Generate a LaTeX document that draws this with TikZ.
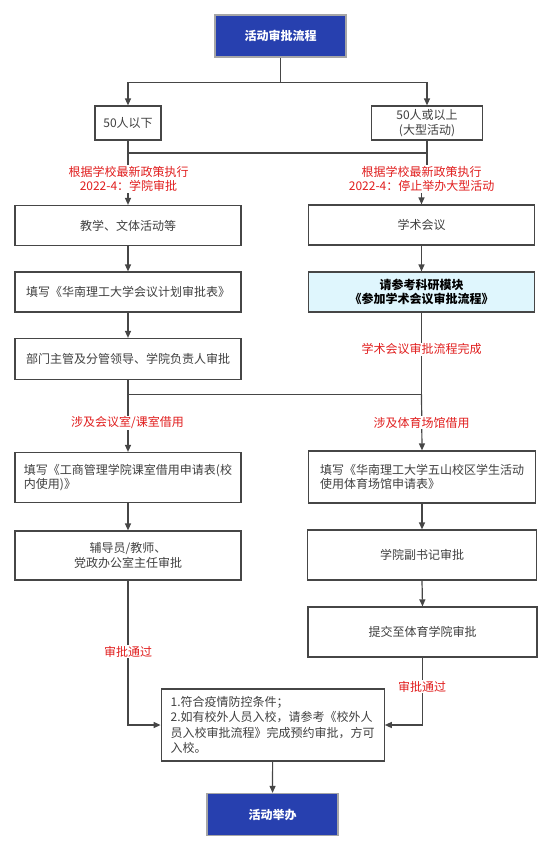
\documentclass[tikz,border=0pt]{standalone}
\usepackage{fontspec}
\setmainfont{Noto Sans CJK SC}[AutoFakeSlant=0.2]
\usetikzlibrary{arrows.meta}
\definecolor{titleblue}{RGB}{39,64,175}
\definecolor{noteblue}{RGB}{223,246,253}
\definecolor{linegray}{RGB}{70,70,70}
\definecolor{textgray}{RGB}{64,64,64}
\definecolor{notered}{RGB}{225,30,30}
\tikzset {>={Triangle[length=7pt,width=6pt]}}
\tikzset {
  stepbox/.style={draw=linegray,line width=1.2pt,fill=white,text=textgray,
    font=\fontsize{12}{14.5}\selectfont,inner sep=3pt,align=center},
  endbox/.style={draw=gray!70,line width=1.2pt,fill=titleblue,text=white,
    font=\fontsize{12}{14.5}\selectfont\bfseries,minimum width=131pt,minimum height=42pt},
  redlabel/.style={fill=white,text=notered,font=\fontsize{12}{14.5}\selectfont,
    inner sep=1pt,align=center}
}

\begin{document}
\begin{tikzpicture}[x=1pt,y=-1pt,line width=1.2pt,color=linegray]
\useasboundingbox (0,0) rectangle (554,851);

\node[endbox] (title) at (280.5,36) {活动审批流程};
\node[stepbox,minimum width=66pt,minimum height=34pt] (lt50) at (128,123) {50人以下};
\node[stepbox,minimum width=111pt,minimum height=34pt] (ge50) at (427,123) {50人或以上\\(大型活动)};

\node[stepbox,minimum width=226pt,minimum height=40pt] (jiaoxue) at (128,225.5) {教学、文体活动等};
\node[stepbox,minimum width=226pt,minimum height=40pt] (plan) at (128,292) {填写《华南理工大学会议计划审批表》};
\node[stepbox,minimum width=226pt,minimum height=41pt] (leader) at (128,359) {部门主管及分管领导、学院负责人审批};
\node[stepbox,minimum width=226pt,minimum height=40pt] (xueshu) at (421.5,225) {学术会议};
\node[stepbox,minimum width=226pt,minimum height=40pt,fill=noteblue,text=black,
  font=\fontsize{12}{14.5}\selectfont\bfseries\itshape] (keyan) at (421.5,292)
  {请参考科研模块\\《参加学术会议审批流程》};

\node[stepbox,minimum width=226pt,minimum height=50pt,align=left] (room) at (128,477.5)
  {填写《工商管理学院课室借用申请表(校\\内使用)》};
\node[stepbox,minimum width=226pt,minimum height=49pt] (tutor) at (128,555.5)
  {辅导员/教师、\\党政办公室主任审批};
\node[stepbox,minimum width=227pt,minimum height=52pt,align=left] (gym) at (422,477)
  {填写《华南理工大学五山校区学生活动\\使用体育场馆申请表》};
\node[stepbox,minimum width=229pt,minimum height=50pt] (deputy) at (422,555) {学院副书记审批};
\node[stepbox,minimum width=229pt,minimum height=50pt] (sport) at (422.5,632) {提交至体育学院审批};

\node[stepbox,minimum width=223pt,minimum height=72pt,align=left,
  font=\fontsize{12}{15.5}\selectfont] (cond) at (272.7,725)
  {1.符合疫情防控条件；\\2.如有校外人员入校，请参考《校外人\\员入校审批流程》完成预约审批，方可\\入校。};
\node[endbox] (hold) at (272.5,814.5) {活动举办};

\draw (title.south) -- ++(0,25) coordinate (fork);
\draw[->] (fork) -| (lt50.north);
\draw[->] (fork) -| (ge50.north);
\coordinate (joinl) at (128,153);
\coordinate (joinr) at (427,153);
\draw (lt50.south) -- (joinl) -- (joinr) -- (ge50.south);
\draw[->] (joinl) -- (jiaoxue.north);
\draw[->] (joinr) -- ++(0,26) -| (xueshu.north);
\draw[->] (jiaoxue) -- (plan);
\draw[->] (plan) -- (leader);
\draw[->] (xueshu) -- (keyan);

\coordinate (mergel) at (128,394.3);
\coordinate (merger) at (421.5,394.3);
\draw (leader.south) -- (mergel) -- (merger) -- (keyan.south);
\draw[->] (mergel) -- (room.north);
\draw[->] (merger) -- (gym.north);
\draw[->] (room) -- (tutor);
\draw[->] (gym.south) -- (deputy.north);
\draw[->] (deputy.south) -- (sport.north);
\draw[->] (tutor.south) |- (cond.west);
\draw[->] (sport.south) |- (cond.east);
\draw[->] (cond) -- (hold);

\node[redlabel] (rule1) at (128.5,179) {根据学校最新政策执行\\2022-4：学院审批};
\node[redlabel] (rule2) at (421.6,179) {根据学校最新政策执行\\2022-4：停止举办大型活动};
\node[redlabel] (done) at (421.6,349.3) {学术会议审批流程完成};
\node[redlabel] (useroom) at (127.6,422.7) {涉及会议室/课室借用};
\node[redlabel] (usegym) at (421.6,422.7) {涉及体育场馆借用};
\node[redlabel] (passl) at (128,651.7) {审批通过};
\node[redlabel] (passr) at (422,686.7) {审批通过};
\end{tikzpicture}
\end{document}
